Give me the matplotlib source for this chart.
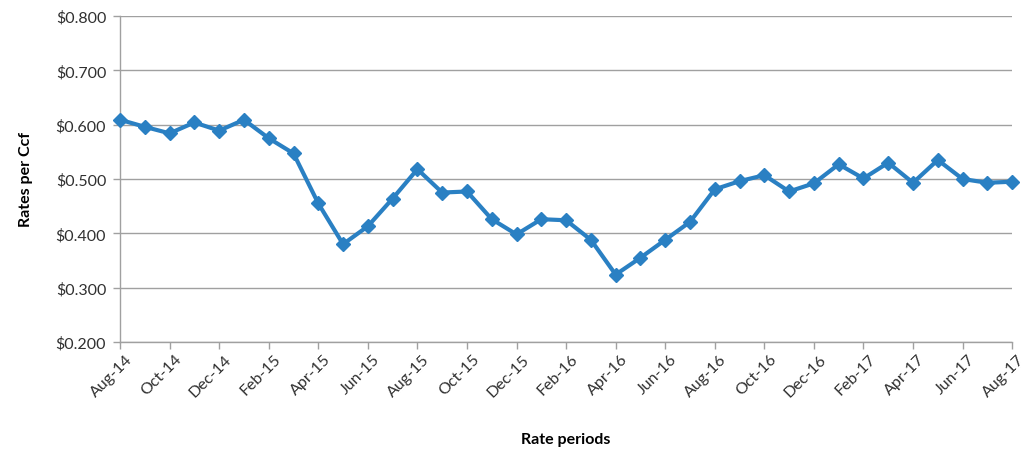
import matplotlib
matplotlib.use("Agg")
import matplotlib.pyplot as plt
from matplotlib.ticker import FuncFormatter, MultipleLocator
from matplotlib.transforms import ScaledTranslation

months = ["Aug-14", "Sep-14", "Oct-14", "Nov-14", "Dec-14", "Jan-15", "Feb-15", "Mar-15",
          "Apr-15", "May-15", "Jun-15", "Jul-15", "Aug-15", "Sep-15", "Oct-15", "Nov-15",
          "Dec-15", "Jan-16", "Feb-16", "Mar-16", "Apr-16", "May-16", "Jun-16", "Jul-16",
          "Aug-16", "Sep-16", "Oct-16", "Nov-16", "Dec-16", "Jan-17", "Feb-17", "Mar-17",
          "Apr-17", "May-17", "Jun-17", "Jul-17", "Aug-17"]
rates = [0.609, 0.596, 0.584, 0.604, 0.589, 0.609, 0.575, 0.547,
         0.455, 0.380, 0.413, 0.464, 0.518, 0.475, 0.477, 0.426,
         0.398, 0.426, 0.424, 0.388, 0.324, 0.355, 0.388, 0.421,
         0.481, 0.496, 0.507, 0.477, 0.492, 0.527, 0.501, 0.530,
         0.493, 0.535, 0.500, 0.493, 0.495]

plt.rcParams['font.family'] = ['Lato', 'DejaVu Sans']

fig = plt.figure(figsize=(10.26, 4.52), dpi=100)
ax = fig.add_axes([0.117, 0.2412, 0.8695, 0.7212])

x = list(range(len(months)))
ax.plot(x, rates, color='#2a80c3', lw=3.0, marker='D', markersize=7.5,
        markerfacecolor='#2a80c3', markeredgecolor='#2a80c3', zorder=3, clip_on=False)

ax.set_xlim(0, len(months) - 1)
ax.set_ylim(0.2, 0.8)
ax.yaxis.set_major_locator(MultipleLocator(0.1))
ax.yaxis.set_major_formatter(FuncFormatter(lambda v, p: f"${v:.3f}"))
ax.set_xticks(x[::2])
ax.set_xticklabels(months[::2], rotation=45, ha='right', rotation_mode='anchor')

ax.grid(axis='y', color='#a0a0a0', lw=1.0)
ax.set_axisbelow(True)
for s in ['top', 'right']:
    ax.spines[s].set_visible(False)
for s in ['left', 'bottom']:
    ax.spines[s].set_color('#a0a0a0')
    ax.spines[s].set_linewidth(1.0)
ax.tick_params(axis='both', direction='out', color='#a0a0a0', length=5, width=1.0,
               labelsize=11.5, labelcolor='#303030')
ax.tick_params(axis='x', pad=2)
ax.tick_params(axis='y', pad=5)
offset = ScaledTranslation(5 / 100, 0, fig.dpi_scale_trans)
for lbl in ax.get_xticklabels():
    lbl.set_transform(lbl.get_transform() + offset)

ax.set_ylabel("Rates per Ccf", fontsize=11.5, fontweight='bold', labelpad=16)
ax.set_xlabel("Rate periods", fontsize=11.5, fontweight='bold', labelpad=24)

fig.savefig("out.png", dpi=100)
